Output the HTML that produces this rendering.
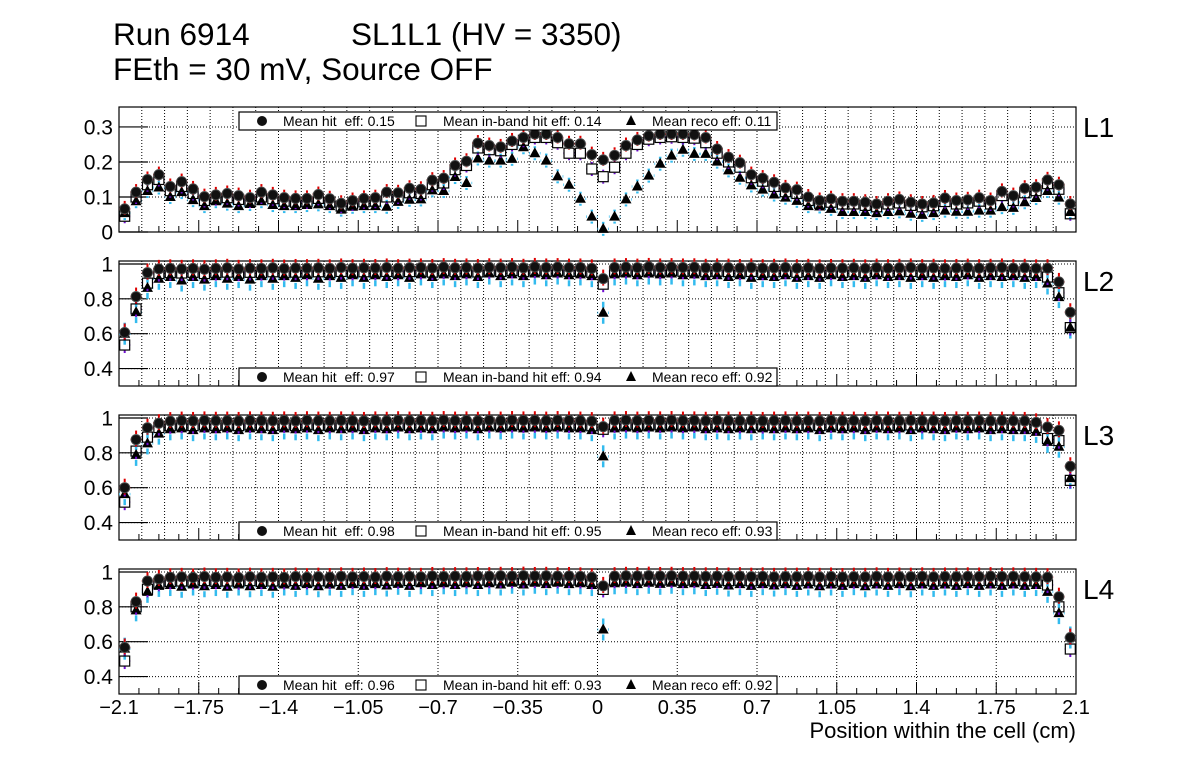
<!DOCTYPE html>
<html><head><meta charset="utf-8"><style>
body{margin:0;background:#fff}
svg text{font-family:"Liberation Sans",Arial,sans-serif}
</style></head><body>
<svg id="c" width="1196" height="772" xmlns="http://www.w3.org/2000/svg">
<text x="113" y="45" font-size="31.5">Run 6914</text>
<text x="351" y="45" font-size="31.5">SL1L1 (HV = 3350)</text>
<text x="113" y="80" font-size="31.5">FEth = 30 mV, Source OFF</text>
<text x="1076" y="738" font-size="22" text-anchor="end">Position within the cell (cm)</text>
</svg>
<script>
const xTicks=[-2.1,-1.75,-1.4,-1.05,-0.7,-0.35,0,0.35,0.7,1.05,1.4,1.75,2.1];
const xTickLabels=["\u22122.1","\u22121.75","\u22121.4","\u22121.05","\u22120.7","\u22120.35","0","0.35","0.7","1.05","1.4","1.75","2.1"];
const layerNames=["L1","L2","L3","L4"];
const meanHit=["0.15","0.97","0.98","0.96"];
const meanBand=["0.14","0.94","0.95","0.93"];
const meanReco=["0.11","0.92","0.93","0.92"];
const hit1=[.066,.114,.15,.164,.13,.144,.123,.101,.106,.11,.104,.098,.114,.106,.098,.096,.096,.107,.095,.082,.09,.096,.098,.114,.112,.125,.122,.148,.154,.19,.202,.254,
.247,.243,.26,.27,.28,.28,.27,.252,.252,.221,.206,.219,.247,.263,.275,.28,.28,.28,.278,.27,
.237,.214,.198,.164,.154,.142,.126,.121,.10,.09,.095,.088,.088,.085,.08,
.088,.093,.085,.080,.083,.097,.09,.092,.098,.09,.116,.104,.125,.128,.149,.135,.080];
const band1=[.045,.1,.135,.15,.118,.13,.11,.09,.095,.098,.093,.088,.1,.095,.088,.085,.086,.096,.085,.074,.08,.086,.088,.1,.1,.112,.11,.135,.14,.178,.19,.24,
.235,.232,.25,.262,.27,.27,.255,.225,.225,.18,.158,.185,.225,.25,.265,.27,.272,.27,.268,.255,
.225,.2,.185,.155,.145,.13,.115,.11,.09,.082,.085,.08,.08,.076,.072,
.08,.083,.076,.072,.075,.087,.08,.083,.088,.08,.104,.09,.112,.118,.138,.122,.052];
const reco1=[.054,.088,.117,.127,.1,.114,.091,.074,.088,.081,.074,.08,.088,.077,.074,.074,.077,.079,.074,.064,.072,.074,.074,.072,.086,.092,.093,.119,.117,.157,.14,.21,
.204,.204,.209,.242,.225,.204,.159,.135,.095,.044,.009,.044,.093,.130,.161,.195,.218,.235,.223,.223,
.201,.176,.155,.133,.121,.107,.098,.089,.074,.073,.066,.057,.057,.057,.054,
.057,.059,.052,.049,.054,.061,.058,.058,.061,.061,.071,.069,.085,.097,.117,.098,.057];
const hit2=[.607,.813,.95,.972,.975,.972,.975,.970,.975,.978,
.972,.976,.975,.978,.974,.977,.976,.978,.975,.980,
.976,.978,.977,.980,.976,.979,.980,.977,.982,.978,
.980,.977,.981,.979,.982,.978,.983,.980,.982,.979,
.980,.975,.916,.980,.982,.979,.983,.980,.982,.980,
.981,.978,.980,.979,.977,.980,.976,.978,.980,.976,
.978,.975,.977,.976,.978,.975,.979,.976,.978,.980,
.976,.978,.975,.977,.979,.976,.978,.980,.976,.978,
.975,.976,.897,.723];
const band2=[.535,.742,.89,.945,.95,.948,.952,.945,.95,.953,
.947,.952,.95,.955,.95,.953,.952,.955,.95,.957,
.952,.955,.953,.957,.952,.956,.957,.953,.96,.955,
.958,.954,.96,.957,.962,.956,.963,.958,.962,.957,
.958,.952,.884,.958,.962,.957,.963,.958,.962,.958,
.96,.955,.958,.956,.953,.957,.952,.955,.957,.952,
.955,.95,.953,.952,.955,.95,.956,.952,.955,.957,
.952,.955,.95,.953,.956,.952,.955,.957,.952,.955,
.95,.925,.835,.635];
const reco2=[.60,.724,.863,.915,.925,.905,.925,.91,.93,.915,
.925,.91,.93,.915,.93,.92,.935,.915,.93,.92,
.935,.92,.935,.925,.935,.92,.94,.925,.94,.93,
.94,.925,.945,.93,.94,.93,.945,.935,.945,.935,
.94,.93,.72,.94,.945,.935,.945,.94,.945,.935,
.94,.93,.935,.925,.935,.92,.93,.925,.935,.92,
.93,.92,.935,.925,.93,.92,.935,.925,.93,.92,
.93,.92,.93,.925,.935,.92,.93,.925,.93,.92,
.925,.888,.81,.635];
const hit3=[.60,.876,.944,.97,.982,.985,.983,.986,.984,.985,
.983,.986,.985,.984,.986,.983,.987,.985,.984,.986,
.985,.983,.986,.984,.987,.985,.986,.984,.988,.985,
.986,.984,.987,.985,.988,.986,.987,.985,.988,.986,
.985,.982,.95,.986,.988,.985,.987,.986,.988,.985,
.986,.984,.987,.985,.984,.986,.983,.985,.986,.984,
.985,.983,.986,.984,.985,.983,.986,.985,.984,.986,
.984,.985,.983,.986,.984,.985,.983,.985,.984,.983,
.975,.948,.929,.723];
const band3=[.517,.81,.89,.945,.955,.958,.956,.96,.957,.958,
.956,.96,.958,.957,.96,.956,.961,.958,.957,.96,
.958,.956,.96,.957,.961,.958,.96,.957,.962,.958,
.96,.957,.961,.958,.962,.96,.961,.958,.962,.96,
.958,.955,.935,.96,.962,.958,.961,.96,.962,.958,
.96,.957,.961,.958,.957,.96,.956,.958,.96,.957,
.958,.956,.96,.957,.958,.956,.96,.958,.957,.96,
.957,.958,.956,.96,.957,.958,.956,.958,.957,.955,
.945,.882,.87,.642];
const reco3=[.563,.788,.854,.91,.935,.94,.93,.94,.935,.94,
.93,.94,.935,.93,.94,.935,.94,.93,.94,.935,
.94,.93,.94,.935,.945,.935,.94,.935,.945,.94,
.945,.935,.945,.94,.945,.94,.945,.94,.945,.94,
.94,.93,.78,.94,.945,.94,.945,.94,.945,.94,
.945,.935,.94,.935,.94,.935,.94,.935,.94,.935,
.94,.93,.94,.935,.94,.93,.94,.935,.94,.93,
.94,.935,.93,.94,.935,.94,.93,.935,.93,.93,
.92,.863,.835,.655];
const hit4=[.567,.83,.948,.96,.97,.972,.968,.974,.97,.972,
.968,.973,.97,.972,.969,.974,.97,.973,.971,.975,
.972,.974,.971,.976,.973,.975,.972,.977,.974,.976,
.975,.977,.976,.978,.976,.979,.977,.978,.976,.977,
.975,.97,.92,.976,.978,.977,.979,.977,.978,.976,
.977,.975,.976,.974,.976,.973,.975,.972,.974,.973,
.975,.972,.974,.971,.973,.972,.975,.972,.974,.973,
.975,.972,.974,.973,.975,.974,.976,.974,.975,.973,
.972,.97,.858,.624];
const band4=[.489,.80,.90,.935,.945,.948,.944,.95,.946,.948,
.944,.95,.946,.948,.945,.95,.946,.949,.947,.951,
.948,.95,.947,.952,.949,.951,.948,.953,.95,.952,
.951,.953,.952,.954,.952,.955,.953,.954,.952,.953,
.951,.945,.90,.952,.954,.953,.955,.953,.954,.952,
.953,.951,.952,.95,.952,.949,.951,.948,.95,.949,
.951,.948,.95,.947,.949,.948,.951,.948,.95,.949,
.951,.948,.95,.949,.951,.95,.952,.95,.951,.949,
.948,.925,.80,.558];
const reco4=[.56,.78,.886,.92,.925,.915,.928,.918,.925,.915,
.928,.918,.925,.915,.928,.92,.93,.918,.928,.92,
.93,.92,.93,.922,.932,.92,.935,.925,.935,.925,
.935,.925,.935,.928,.938,.928,.938,.93,.938,.93,
.935,.925,.67,.935,.938,.93,.938,.932,.938,.93,
.935,.925,.932,.922,.93,.92,.93,.922,.93,.92,
.928,.918,.928,.92,.93,.918,.928,.92,.93,.918,
.928,.92,.928,.92,.93,.92,.928,.92,.928,.92,
.925,.886,.764,.624];
const hits=[hit1,hit2,hit3,hit4], bands=[band1,band2,band3,band4], recos=[reco1,reco2,reco3,reco4];

const NS="http://www.w3.org/2000/svg";
const svg=document.getElementById('c');
const X0=119,X1=1076,XMIN=-2.1,XMAX=2.1,NB=84;
const tops=[107,261,415,569],H=125;
const yr=[[0,0.357],[0.3,1.017],[0.3,1.017],[0.3,1.017]];
function xs(v){return X0+(v-XMIN)/(XMAX-XMIN)*(X1-X0);}
function ys(p,v){const b=tops[p]+H;return b-(v-yr[p][0])/(yr[p][1]-yr[p][0])*H;}
function mk(tag,attrs,parent){const e=document.createElementNS(NS,tag);for(const k in attrs)e.setAttribute(k,attrs[k]);(parent||svg).appendChild(e);return e;}
function bars(g,cx,y,hw,up,dn,gap,col,w){
  if(up>gap)mk('line',{x1:cx,x2:cx,y1:y-up,y2:y-gap,stroke:col,'stroke-width':w},g);
  if(dn>gap)mk('line',{x1:cx,x2:cx,y1:y+gap,y2:y+dn,stroke:col,'stroke-width':w},g);
  mk('line',{x1:cx-hw,x2:cx-gap,y1:y,y2:y,stroke:col,'stroke-width':w},g);
  mk('line',{x1:cx+gap,x2:cx+hw,y1:y,y2:y,stroke:col,'stroke-width':w},g);
}

for(let p=0;p<4;p++){
  const g=mk('g',{});
  
  
  const top=tops[p],bot=top+H;
  const gx=[];
  if(p<3){for(let i=-20;i<=20;i++)gx.push(i/10);}else{for(let i=1;i<12;i++)gx.push(xTicks[i]);}
  gx.forEach(v=>{const l=mk('line',{x1:xs(v),x2:xs(v),y1:top,y2:bot,stroke:'#000','stroke-width':1,'stroke-dasharray':'1,2'},g);
    });
  const yt=p==0?[0,0.1,0.2,0.3]:[0.4,0.6,0.8,1];
  const ytl=p==0?["0","0.1","0.2","0.3"]:["0.4","0.6","0.8","1"];
  yt.forEach((v,i)=>{const y=ys(p,v);
    if(v>yr[p][0]+1e-6){const l=mk('line',{x1:X0,x2:X1,y1:y,y2:y,stroke:'#000','stroke-width':1,'stroke-dasharray':'1,2'},g);
      }
    mk('line',{x1:X0,x2:X0+29,y1:y,y2:y,stroke:'#000','stroke-width':1.2},g);
    const t=mk('text',{x:113,y:y+7.5,'font-size':21,'text-anchor':'end'},g);t.textContent=ytl[i];
    });
  for(let v=-2.1;v<=2.1001;v+=0.0875){const major=Math.abs(v/0.35-Math.round(v/0.35))<1e-3;
    mk('line',{x1:xs(v),x2:xs(v),y1:bot,y2:bot-(major?12:6),stroke:'#000','stroke-width':1},g);}
  const fr=mk('rect',{x:X0,y:top,width:X1-X0,height:H,fill:'none',stroke:'#000','stroke-width':1.2},g);
  
  const ll=mk('text',{x:1083,y:top+30,'font-size':28},g);ll.textContent=layerNames[p];
  
  const bw=(X1-X0)/NB;
  const sg=mk('g',{},g);
  
  const qg=mk('g',{},g);
  
  const hg=mk('g',{},g);
  
  const eh=p==0?8:9, eb=p==0?7:8, er=p==0?7:11;
  for(let k=0;k<NB;k++){
    const cx=xs(XMIN+(k+0.5)*(XMAX-XMIN)/NB);
    let y=ys(p,recos[p][k]);
    bars(sg,cx,y,bw/2,er,er,5,'#33bbee',2.5);
    const tr=mk('polygon',{points:`${cx},${y-6} ${cx-5.5},${y+4} ${cx+5.5},${y+4}`,fill:'#000'},sg);
    
    y=ys(p,bands[p][k]);
    bars(qg,cx,y,bw/2,eb,eb,5.5,'#7010d0',2);
    const sq=mk('rect',{x:cx-5,y:y-5,width:10,height:10,fill:'none',stroke:'#000','stroke-width':1.2},qg);
    
    y=ys(p,hits[p][k]);
    bars(hg,cx,y,bw/2,eh,eh-2,5.5,'#dd0000',2);
    const ci=mk('circle',{cx:cx,cy:y,r:5,fill:'#111',stroke:'#444','stroke-width':1},hg);
    
  }
  const ly=p==0?top+5:bot-18;
  const lg=mk('g',{},g);
  
  mk('rect',{x:239,y:ly,width:538,height:18,fill:'#fff',stroke:'#000','stroke-width':1.2},lg);
  mk('circle',{cx:262,cy:ly+9,r:5,fill:'#111'},lg);
  const t1=mk('text',{x:283,y:ly+14,'font-size':14},lg);t1.textContent='Mean hit  eff: '+meanHit[p];
  
  t1.style.whiteSpace='pre';
  mk('rect',{x:416,y:ly+4,width:10,height:10,fill:'none',stroke:'#000','stroke-width':1.1},lg);
  const t2=mk('text',{x:443,y:ly+14,'font-size':14},lg);t2.textContent='Mean in-band hit eff: '+meanBand[p];
  
  mk('polygon',{points:`631,${ly+3} 626,${ly+13} 636,${ly+13}`,fill:'#000'},lg);
  const t3=mk('text',{x:652,y:ly+14,'font-size':14},lg);t3.textContent='Mean reco eff: '+meanReco[p];
  
}
xTicks.forEach((v,i)=>{const t=mk('text',{x:xs(v),y:714,'font-size':20,'text-anchor':'middle'});t.textContent=xTickLabels[i];
  });
</script>
</body></html>
